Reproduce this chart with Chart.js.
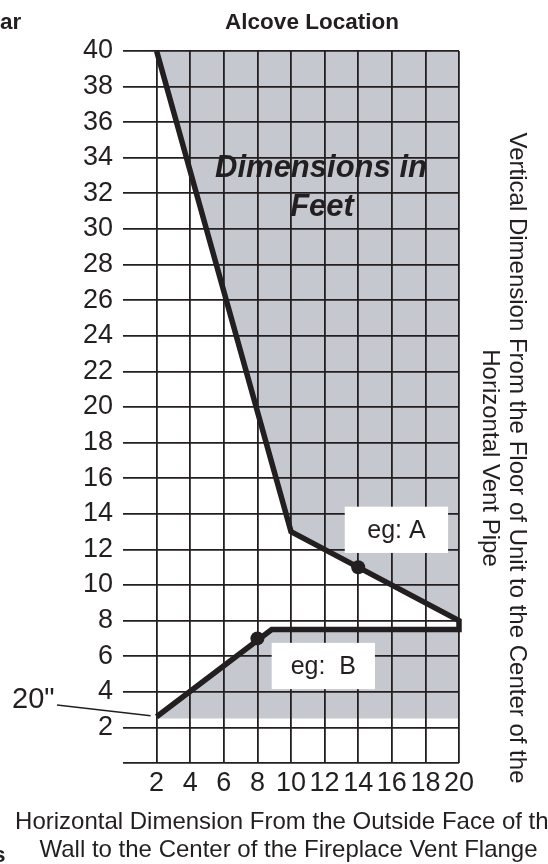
<!DOCTYPE html>
<html>
<head>
<meta charset="utf-8">
<script src="https://cdn.jsdelivr.net/npm/chart.js@4.4.0/dist/chart.umd.min.js"></script>
<style>
  html, body { margin: 0; padding: 0; background: #ffffff; }
  #wrap { position: relative; width: 548px; height: 864px; overflow: hidden; }
</style>
</head>
<body>
<div id="wrap"><canvas id="c"></canvas></div>
<script>
// ---------------- data ----------------
const xTickValues = [2, 4, 6, 8, 10, 12, 14, 16, 18, 20];
const yTickValues = [2, 4, 6, 8, 10, 12, 14, 16, 18, 20, 22, 24, 26, 28, 30, 32, 34, 36, 38, 40];

// Upper limit line (eg: A side)
const lineAx = [2, 10, 20];
const lineAy = [40, 13, 8];

// Lower limit line (eg: B side), left to right
const lineBx = [2, 8.85, 20];
const lineBy = [2.6, 7.5, 7.5];

// example points
const exampleX = [14, 8];
const exampleY = [11, 7.0];

// floor of the lower shaded zone
const shadeFloor = 2.5;

// ---------------- texts ----------------
const chartTitle = 'Alcove Location';
const cutTopLeft = 'ar';
const cutBottomLeft = 's';
const unitsLines = ['Dimensions in', 'Feet'];
const exampleLabels = ['eg: A', 'eg:  B'];
const xTitleLines = ['Horizontal Dimension From the Outside Face of the', 'Wall to the Center of the Fireplace Vent Flange'];
const yTitleLines = ['Vertical Dimension From the Floor of Unit to the Center of the', 'Horizontal Vent Pipe'];
const minLabel = '20"';

// ---------------- build ----------------
const INK = '#231f20';
const SHADE = '#c5c9cf';
const FONT = "'Liberation Sans', Arial, Helvetica, sans-serif";

const pts = (xs, ys) => xs.map((x, i) => ({x: x, y: ys[i]}));
const outline = pts(lineAx, lineAy).concat(pts(lineBx.slice().reverse(), lineBy.slice().reverse()));

const annot = {
  id: 'annot',
  afterDatasetsDraw(chart) {
    const ctx = chart.ctx;
    const xs = chart.scales.x, ys = chart.scales.y;
    const px = v => xs.getPixelForValue(v);
    const py = v => ys.getPixelForValue(v);
    ctx.save();
    ctx.fillStyle = INK;

    // example boxes (data coordinates)
    const boxes = [
      {x1: 13.2, x2: 19.35, y1: 11.8, y2: 14.4, t: exampleLabels[0]},
      {x1: 8.85, x2: 15.0, y1: 4.15, y2: 6.75, t: exampleLabels[1]}
    ];
    boxes.forEach(b => {
      const l = px(b.x1), r = px(b.x2), t = py(b.y2), bt = py(b.y1);
      ctx.fillStyle = '#ffffff';
      ctx.fillRect(l, t, r - l, bt - t);
      ctx.fillStyle = INK;
      ctx.font = '25px ' + FONT;
      ctx.textAlign = 'center';
      ctx.textBaseline = 'middle';
      ctx.fillText(b.t, (l + r) / 2, (t + bt) / 2 + 1);
    });

    // units text
    ctx.font = 'italic bold 31px ' + FONT;
    ctx.textAlign = 'center';
    ctx.textBaseline = 'alphabetic';
    ctx.fillText(unitsLines[0], 321, 177);
    ctx.fillText(unitsLines[1], 322, 216);

    // title and cut fragments
    ctx.font = 'bold 22.5px ' + FONT;
    ctx.textAlign = 'center';
    ctx.fillText(chartTitle, 312, 29);
    ctx.textAlign = 'left';
    ctx.fillText(cutTopLeft, 0, 29);
    ctx.fillText(cutBottomLeft, -7, 862);

    // x title
    ctx.font = '24px ' + FONT;
    ctx.textAlign = 'center';
    ctx.textBaseline = 'middle';
    ctx.fillText(xTitleLines[0], 288.5, 822);
    ctx.fillText(xTitleLines[1], 288.5, 850);

    // y title (rotated, reading downward)
    ctx.save();
    ctx.translate(510, 458);
    ctx.rotate(Math.PI / 2);
    ctx.font = '24px ' + FONT;
    ctx.textAlign = 'center';
    ctx.textBaseline = 'alphabetic';
    ctx.fillText(yTitleLines[0], 0, 0);
    ctx.fillText(yTitleLines[1], 0, 27);
    ctx.restore();

    // 20" label with leader
    ctx.font = '29px ' + FONT;
    ctx.textAlign = 'left';
    ctx.textBaseline = 'alphabetic';
    ctx.fillText(minLabel, 12, 708);
    ctx.strokeStyle = INK;
    ctx.lineWidth = 1.4;
    ctx.beginPath();
    ctx.moveTo(57, 705);
    ctx.lineTo(px(lineBx[0]) - 6, py(lineBy[0]) - 1);
    ctx.stroke();

    ctx.restore();
  }
};

const gridColor = c => (c.tick && c.tick.value === 0 ? 'rgba(0,0,0,0)' : INK);

new Chart(document.getElementById('c'), {
  type: 'scatter',
  data: {
    datasets: [
      { // upper shaded zone
        data: pts(lineAx, lineAy), showLine: true, borderWidth: 0, pointRadius: 0,
        backgroundColor: SHADE, borderColor: 'rgba(0,0,0,0)', fill: 'end', order: 3
      },
      { // lower shaded zone
        data: pts(lineBx, lineBy), showLine: true, borderWidth: 0, pointRadius: 0,
        backgroundColor: SHADE, borderColor: 'rgba(0,0,0,0)', fill: {value: shadeFloor}, order: 3
      },
      { // outline
        data: outline, showLine: true, borderWidth: 5.5, borderColor: INK, pointRadius: 0,
        fill: false, tension: 0, borderJoinStyle: 'miter', borderCapStyle: 'butt', clip: false, order: 2
      },
      { // example points
        data: pts(exampleX, exampleY), showLine: false, pointRadius: 7, pointBackgroundColor: INK,
        pointBorderWidth: 0, backgroundColor: INK, clip: false, order: 1
      }
    ]
  },
  options: {
    responsive: true,
    maintainAspectRatio: false,
    animation: false,
    events: [],
    layout: { padding: { left: 0, right: 89, top: 51, bottom: 0 } },
    plugins: {
      legend: { display: false },
      tooltip: { enabled: false },
      title: { display: false },
      filler: { drawTime: 'beforeDraw' }
    },
    scales: {
      x: {
        type: 'linear', position: 'bottom', min: 0, max: 20,
        afterBuildTicks: s => { s.ticks = [0].concat(xTickValues).map(v => ({value: v})); },
        afterFit: s => { s.height = 101; },
        ticks: {
          autoSkip: false, maxRotation: 0, padding: 4, color: INK,
          font: { family: FONT, size: 27 },
          callback: v => (v === 0 ? '' : String(v))
        },
        grid: { color: gridColor, lineWidth: 1.8, drawTicks: false },
        border: { display: false }
      },
      y: {
        type: 'linear', position: 'left', min: 0, max: 40,
        afterBuildTicks: s => { s.ticks = [0].concat(yTickValues).map(v => ({value: v})); },
        afterFit: s => { s.width = 123; },
        ticks: {
          autoSkip: false, padding: 10, color: INK,
          font: { family: FONT, size: 27 },
          callback: v => (v === 0 ? '' : String(v))
        },
        grid: { color: INK, lineWidth: 1.8, drawTicks: false },
        border: { display: false }
      }
    }
  },
  plugins: [annot]
});
</script>
</body>
</html>
